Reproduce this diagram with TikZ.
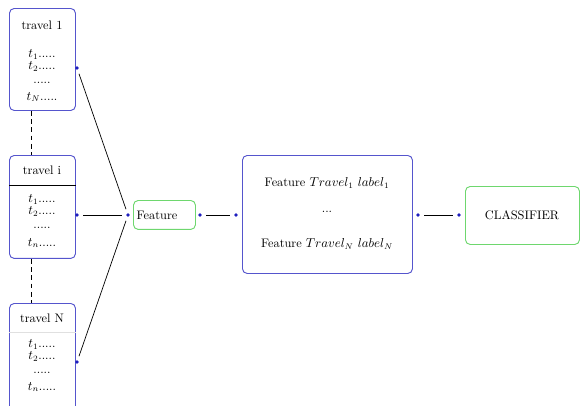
\documentclass[tikz,border=0pt]{standalone}
\usetikzlibrary{calc}
\definecolor{myblue}{RGB}{85,85,205}
\definecolor{mygreen}{RGB}{110,215,110}
\definecolor{dotblue}{RGB}{30,30,190}
\begin{document}
\begin{tikzpicture}[x=0.85pt,y=-0.85pt, font=\fontsize{10.5}{12}\selectfont,
  bbox/.style={draw=myblue, rounded corners=4pt, line width=0.8pt, anchor=north west, inner sep=0pt},
  gbox/.style={draw=mygreen, rounded corners=4pt, line width=0.8pt, anchor=north west, inner sep=0pt},
  dotnode/.style={circle, fill=dotblue, inner sep=0pt, minimum size=3pt},
  conn/.style={black, line width=0.6pt, shorten >=3.5pt, shorten <=3.5pt},
  txt/.style={inner sep=0pt, anchor=center},
  ln/.style={inner sep=0pt, anchor=base}]
\useasboundingbox (0,0) rectangle (581,405);
% travel boxes
\node[bbox, minimum width=56.1pt, minimum height=86.7pt] (tA) at (9,8) {};
\node[bbox, minimum width=56.1pt, minimum height=87.5pt] (tI) at (9,155) {};
\node[bbox, minimum width=56.1pt, minimum height=92pt] (tN) at (9,303) {};
% dividers
\draw[line width=0.6pt] ($(tI.north west)+(0,30)$) -- ($(tI.north east)+(0,30)$);
\draw[line width=0.4pt, black!12] ($(tN.north west)+(0,29)$) -- ($(tN.north east)+(0,29)$);
% texts travel 1
\node[txt] (a0) at (42,25) {travel\,\,1};
\node[ln] (a1) at (42,57.5) {$t_1$.....};
\node[ln] (a2) at (42,69.5) {$t_2$.....};
\node[ln] (a3) at (42,83) {.....};
\node[ln] (a4) at (42,100) {$t_N$.....};
% texts travel i
\node[txt] (i0) at (42,170) {travel i};
\node[ln] (i1) at (42,202.5) {$t_1$.....};
\node[ln] (i2) at (42,214.5) {$t_2$.....};
\node[ln] (i3) at (42,228) {.....};
\node[ln] (i4) at (42,246) {$t_n$.....};
% texts travel N
\node[txt] (n0) at (42,318) {travel N};
\node[ln] (n1) at (42,347.5) {$t_1$.....};
\node[ln] (n2) at (42,359.5) {$t_2$.....};
\node[ln] (n3) at (42,373) {.....};
\node[ln] (n4) at (42,390) {$t_n$.....};
% dashed links
\draw[line width=0.8pt, dash pattern=on 4pt off 3pt] ($(tA.south west)+(22,0)$) -- ($(tI.north west)+(22,0)$);
\draw[line width=0.8pt, dash pattern=on 4pt off 3pt] ($(tI.south west)+(22,0)$) -- ($(tN.north west)+(22,0)$);
% feature box
\node[gbox, minimum width=52.7pt, minimum height=24.6pt] (feat) at (133,200) {};
\node[txt] (featT) at (157,215) {Feature};
% big box
\node[bbox, minimum width=144.5pt, minimum height=100.3pt] (big) at (242,155) {};
\node[txt] (b1) at (327,183) {Feature $Travel_1$ $label_1$};
\node[txt] (b2) at (327,212) {...};
\node[txt] (b3) at (327,244) {Feature $Travel_N$ $label_N$};
% classifier
\node[gbox, minimum width=96.9pt, minimum height=49.3pt] (cls) at (465,186) {};
\node[txt] (clsT) at (522,215) {CLASSIFIER};
% dots
\node[dotnode] (dA) at (77,68) {};
\node[dotnode] (dI) at (77,215) {};
\node[dotnode] (dN) at (77,362) {};
\node[dotnode] (fL) at (128,215) {};
\node[dotnode] (fR) at (200,215) {};
\node[dotnode] (bL) at (236,215) {};
\node[dotnode] (bR) at (418,215) {};
\node[dotnode] (cL) at (459,215) {};
% connectors
\draw[conn] (dA) -- (fL);
\draw[conn] (dI) -- (fL);
\draw[conn] (dN) -- (fL);
\draw[conn] (fR) -- (bL);
\draw[conn] (bR) -- (cL);
\end{tikzpicture}
\end{document}
